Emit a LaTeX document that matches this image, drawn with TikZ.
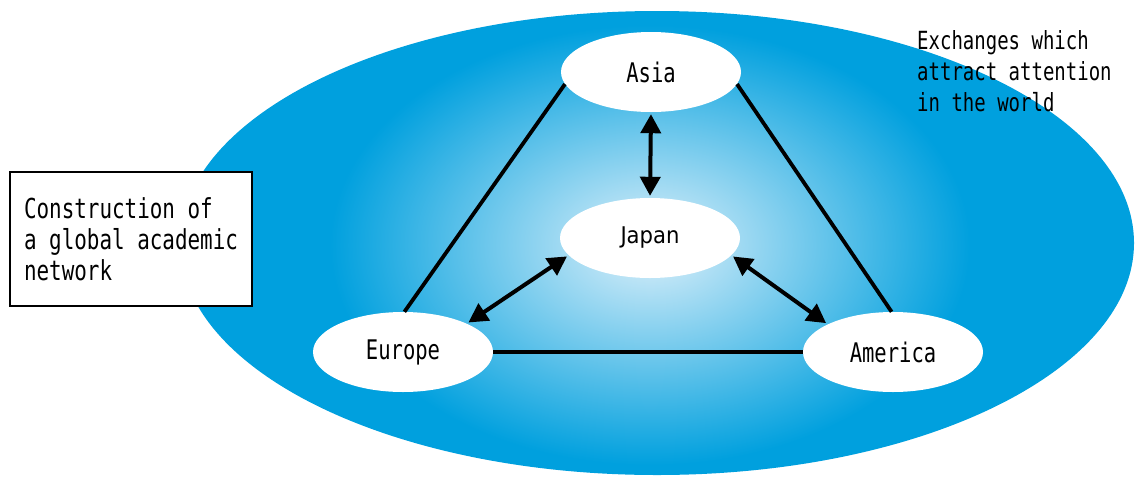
\documentclass[tikz,border=0pt]{standalone}
\usepackage{fontspec}
\usepackage{tikz}
\usepackage{xcolor}
\usetikzlibrary{shapes.geometric,arrows.meta}
\newfontfamily\gothic[FakeStretch=0.76]{DejaVu Sans Mono}
\newfontfamily\gothicprop[FakeStretch=0.92]{DejaVu Sans}
\definecolor{sea-blue}{RGB}{0,160,222}
\definecolor{sea-light}{RGB}{222,240,250}
\tikzset{
    place-ellipse/.style = {ellipse, fill=white, inner sep=0pt, minimum width=180pt, minimum height=80pt, font=\gothic\fontsize{27}{31}\selectfont},
    note-box/.style = {draw=black, line width=2pt, fill=white, rectangle, inner xsep=11pt, minimum width=242pt, minimum height=134pt, align=left, font=\gothic\fontsize{27.5}{31}\selectfont},
    note-text/.style = {inner sep=0pt, align=left, font=\gothic\fontsize{25}{31}\selectfont},
    link-line/.style = {line width=3.8pt},
    link-arrow/.style = {line width=4pt, {Triangle[length=19pt,width=20pt]}-{Triangle[length=19pt,width=20pt]}, shorten <=2pt, shorten >=2pt},
}

\begin{document}
\begin{tikzpicture}[x=1pt,y=-1pt]
\useasboundingbox (0,0) rectangle (1137,477);
% background ellipse
\begin{scope}
    \clip (657,243) ellipse [x radius=477, y radius=232];
    \fill[sea-blue] (150,0) rectangle (1137,477);
    \shade[inner color=sea-light, outer color=sea-blue] (650,245) ellipse [x radius=320, y radius=220];
\end{scope}
% regions
\node[place-ellipse] (asia) at (651,72) {Asia};
\node[place-ellipse, font=\gothicprop\fontsize{23}{31}\selectfont] (japan) at (650,238) {Japan};
\node[place-ellipse] (europe) at (403,352) {Europe};
\node[place-ellipse] (america) at (893,352) {America};
% links
\draw[link-line] (asia.188) -- (europe.88);
\draw[link-line] (asia.352) -- (america.92);
\draw[link-line] (europe.east) -- (america.west);
\draw[link-arrow] (asia.south) -- (japan.north);
\draw[link-arrow] (japan.192) -- (europe.24);
\draw[link-arrow] (japan.348) -- (america.157);
% notes
\node[note-box] (goal) at (131,239) {Construction of\\a global academic\\network};
\node[note-text, anchor=north west] (exchange) at (917,30) {Exchanges which\\attract attention\\in the world};
\end{tikzpicture}
\end{document}
